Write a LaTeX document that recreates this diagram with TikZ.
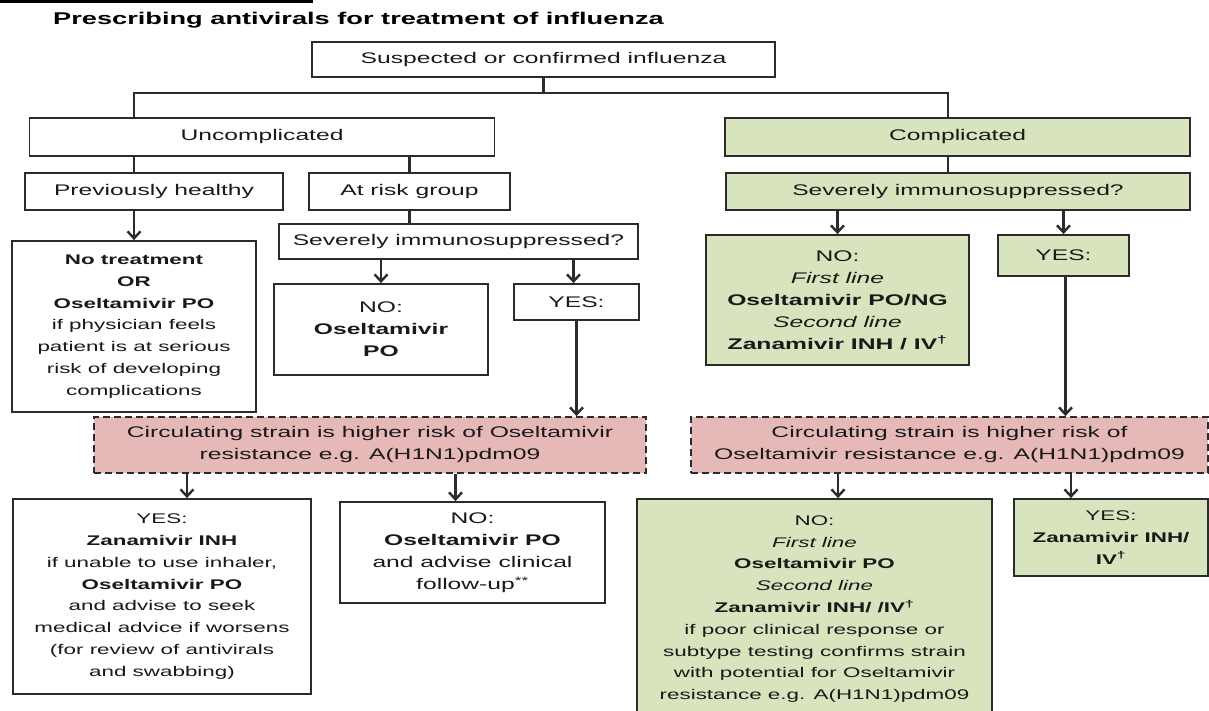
\documentclass[tikz,border=0pt]{standalone}
\usepackage{fontspec}
\setmainfont{Liberation Sans}[FakeStretch=1.6]
\usetikzlibrary{arrows.meta}
\definecolor{GreenClr}{HTML}{D7E4BD}
\definecolor{RedClr}{HTML}{E6B9B8}
\definecolor{EdgeClr}{HTML}{2B2B2B}

\tikzset{
  flowbox/.style={draw=EdgeClr, line width=1.8pt, inner sep=0pt, align=center,
    text=black!90, font=\fontsize{15.4}{22}\selectfont},
  plainbox/.style={flowbox, fill=white},
  greenbox/.style={flowbox, fill=GreenClr},
  riskbox/.style={flowbox, fill=RedClr, dash pattern=on 7pt off 4pt},
  dense/.style={font=\fontsize{14}{21.8}\selectfont},
  conn/.style={draw=EdgeClr, line width=2.4pt},
  arr/.style={conn, -{Straight Barb[length=7pt,width=13pt]}},
}

\begin{document}
\begin{tikzpicture}[x=1pt,y=-1pt]
\useasboundingbox (0,0) rectangle (1209,711);
\clip (0,0) rectangle (1209,711);
\fill[white] (0,0) rectangle (1209,711);

% heading
\fill[black] (0,0) rectangle (313,3);
\node[anchor=west, inner sep=0pt, font=\fontsize{17}{20}\selectfont\bfseries] (title) at (53,20)
  {Prescribing antivirals for treatment of influenza};

% top levels
\node[plainbox, minimum width=463, minimum height=35] (suspect) at (543.5,59.5) {Suspected or confirmed influenza};
\node[plainbox, minimum width=465, minimum height=38] (uncomp) at (262,137) {Uncomplicated};
\node[greenbox, minimum width=465, minimum height=38] (comp) at (957.5,137) {Complicated};

\coordinate (jM) at (543.5,93);
\coordinate (jL) at (134,93);
\coordinate (jR) at (948,93);

% uncomplicated branch
\node[plainbox, minimum width=258, minimum height=37] (healthy) at (154,191.5) {Previously healthy};
\node[plainbox, minimum width=201, minimum height=37] (atrisk) at (409.5,191.5) {At risk group};
\node[plainbox, minimum width=359, minimum height=35] (sevL) at (458.5,241.5) {Severely immunosuppressed?};
\node[plainbox, dense, minimum width=244, minimum height=171] (notreat) at (134,326.5)
  {\textbf{No treatment}\\\textbf{OR}\\\textbf{Oseltamivir PO}\\if physician feels\\patient is at serious\\risk of developing\\complications};
\node[plainbox, minimum width=214, minimum height=91] (noL) at (381,329.5)
  {NO:\\\textbf{Oseltamivir}\\\textbf{PO}};
\node[plainbox, minimum width=125, minimum height=36] (yesL) at (576.5,302) {YES:};
\node[riskbox, minimum width=552, minimum height=56] (riskL) at (370,445)
  {Circulating strain is higher risk of Oseltamivir\\resistance e.g. A(H1N1)pdm09};
\node[plainbox, dense, minimum width=298, minimum height=195] (yesB) at (162,596.5)
  {YES:\\\textbf{Zanamivir INH}\\if unable to use inhaler,\\\textbf{Oseltamivir PO}\\and advise to seek\\medical advice if worsens\\(for review of antivirals\\and swabbing)};
\node[plainbox, minimum width=265, minimum height=101] (noB) at (472.5,552.5)
  {NO:\\\textbf{Oseltamivir PO}\\and advise clinical\\follow-up\textsuperscript{**}};

% complicated branch
\node[greenbox, minimum width=464, minimum height=37] (sevR) at (958,191.5) {Severely immunosuppressed?};
\node[greenbox, minimum width=263, minimum height=130] (noR) at (837.5,300)
  {NO:\\\textit{First line}\\\textbf{Oseltamivir PO/NG}\\\textit{Second line}\\\textbf{Zanamivir INH / IV\textsuperscript{†}}};
\node[greenbox, minimum width=131, minimum height=41] (yesR) at (1063.5,255.5) {YES:};
\node[riskbox, minimum width=517, minimum height=56] (riskR) at (949.5,445)
  {Circulating strain is higher risk of\\Oseltamivir resistance e.g. A(H1N1)pdm09};
\node[greenbox, dense, minimum width=355, minimum height=220] (noG) at (814.5,609)
  {NO:\\\textit{First line}\\\textbf{Oseltamivir PO}\\\textit{Second line}\\\textbf{Zanamivir INH/ /IV\textsuperscript{†}}\\if poor clinical response or\\subtype testing confirms strain\\with potential for Oseltamivir\\resistance e.g. A(H1N1)pdm09};
\node[greenbox, dense, minimum width=194, minimum height=77] (yesG) at (1111,537.5)
  {YES:\\\textbf{Zanamivir INH/}\\\textbf{IV\textsuperscript{†}}};

% connectors
\draw[conn] (suspect.south) -- (jM);
\draw[conn] (uncomp.north -| jL) -- (jL) -- (jR) -- (comp.north -| jR);
\draw[conn] (jL |- uncomp.south) -- (jL |- healthy.north);
\draw[conn] (atrisk.north |- uncomp.south) -- (atrisk.north);
\draw[conn] (atrisk.south) -- (atrisk.south |- sevL.north);
\draw[conn] (jR |- comp.south) -- (jR |- sevR.north);

\draw[arr] (notreat.north |- healthy.south) -- (notreat.north);
\draw[arr] (noL.north |- sevL.south) -- (noL.north);
\draw[arr] ([xshift=-3]yesL.north |- sevL.south) -- ([xshift=-3]yesL.north);
\draw[arr] (yesL.south) -- (yesL.south |- riskL.north);
\draw[arr] ([xshift=25]yesB.north |- riskL.south) -- ([xshift=25]yesB.north);
\draw[arr] ([xshift=-17]noB.north |- riskL.south) -- ([xshift=-17]noB.north);

\draw[arr] (noR.north |- sevR.south) -- (noR.north);
\draw[arr] (yesR.north |- sevR.south) -- (yesR.north);
\draw[arr] ([xshift=2]yesR.south) -- ([xshift=2]yesR.south |- riskR.north);
\draw[arr] ([xshift=23.5]noG.north |- riskR.south) -- ([xshift=23.5]noG.north);
\draw[arr] ([xshift=-40]yesG.north |- riskR.south) -- ([xshift=-40]yesG.north);
\end{tikzpicture}
\end{document}
